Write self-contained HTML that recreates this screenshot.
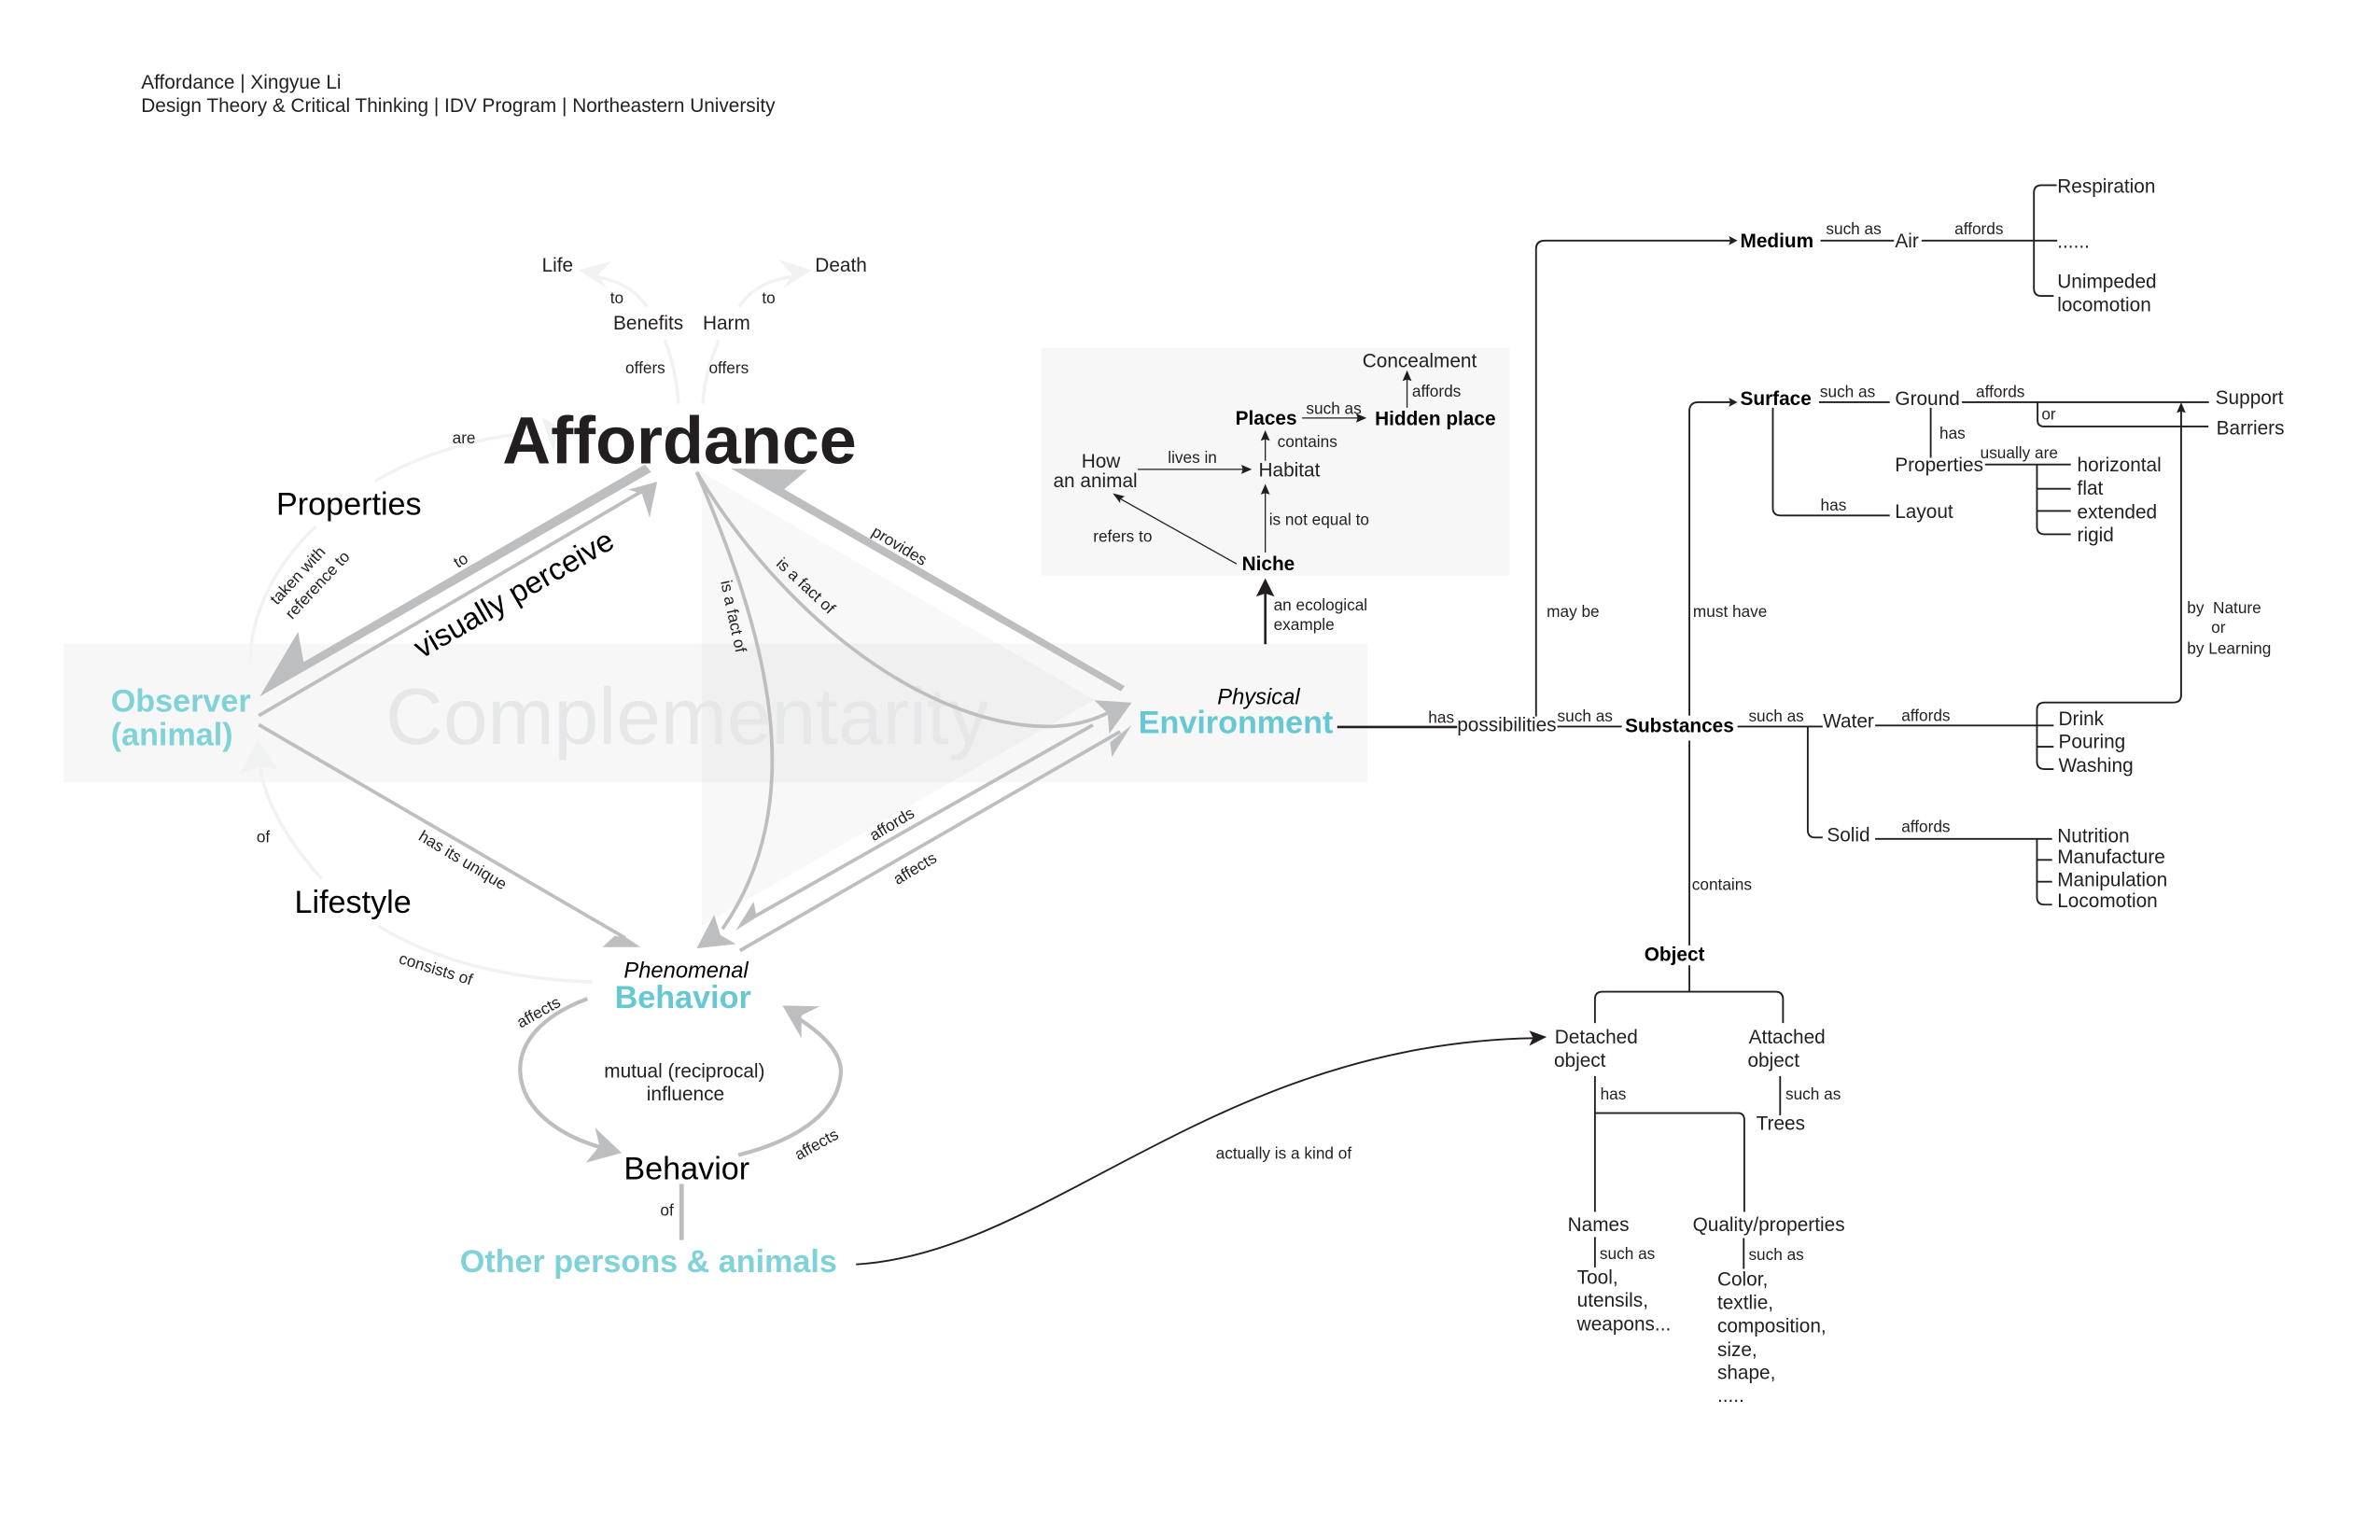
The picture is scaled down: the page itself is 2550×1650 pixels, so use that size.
<!DOCTYPE html>
<html lang="en">
<head>
<meta charset="utf-8">
<title>Affordance concept map</title>
<style>
html,body{margin:0;padding:0;background:#fff;width:2550px;height:1650px;overflow:hidden}
svg{display:block}
text{font-family:"Liberation Sans",sans-serif;fill:#231f20}
.s{font-size:10.6px}
.n{font-size:12.8px}
.b{font-size:12.8px;font-weight:bold;fill:#000}
.l{font-size:21px;fill:#000}
.t{font-size:21px;font-weight:bold}
.i{font-size:14.6px;font-style:italic;fill:#000}
.c{text-anchor:middle}
.k{fill:none;stroke:#231f20;stroke-width:1.15}
.kf{fill:#231f20}
.g{fill:none;stroke:#bcbec0;stroke-width:2.3}
.gf{fill:#bcbec0}
.f{fill:none;stroke:#f1f2f2;stroke-width:2.2}
.ff{fill:#f1f2f2}
</style>
</head>
<body>
<svg xmlns="http://www.w3.org/2000/svg" width="2550" height="1650" viewBox="0 0 1568 1014.6">
<rect x="0" y="0" width="1568" height="1014.6" fill="#fff"/>

<!-- panels -->
<rect x="42" y="424" width="859" height="91.5" fill="#f7f7f7"/>
<polygon points="462.3,311 721,461 462.3,610" fill="#000" fill-opacity="0.026"/>
<rect x="686" y="229.2" width="308.5" height="150" fill="#f7f7f7"/>
<text x="254" y="490" font-size="52.6" style="fill:#e6e7e8">Complementarity</text>

<!-- header -->
<text x="93" y="58.5" font-size="12.8">Affordance | Xingyue Li</text>
<text x="93" y="73.8" font-size="12.8">Design Theory &amp; Critical Thinking | IDV Program | Northeastern University</text>

<!-- faint connectors -->
<g>
<path class="f" d="M447,266 C446,250 443,238 438,224"/>
<path class="f" d="M463,266 C464,250 468,238 473.5,224"/>
<path class="f" d="M426,202 C418,190 406,184 390,182"/>
<polygon class="ff" points="381,178 403,172 394,181 400,190"/>
<path class="f" d="M487,202 C495,190 507,184 524,182"/>
<polygon class="ff" points="535,178 513,171 522,181 516,190"/>
<path class="f" d="M247,317 C280,298 315,288 352,285"/>
<polygon class="ff" points="368,281 357,275 360,285 365,298"/>
<path class="f" d="M208,347 C178,375 164,410 165,438"/>
<path class="f" d="M212,579 C190,555 172,525 171,500"/>
<polygon class="ff" points="170,487 158,510 171,505 183,507"/>
<path class="f" d="M390,647 C340,645 290,635 249,610"/>
</g>

<!-- grey connectors -->
<g>
<polygon class="gf" points="171.2,458.8 429,311 425,306 200,436.2 196.4,416.2"/>
<line class="g" x1="170.5" y1="471.5" x2="424" y2="323"/>
<polygon class="gf" points="433,317.4 414,322.5 423,325.5 428,341"/>
<line class="g" x1="170.5" y1="477.5" x2="412" y2="618"/>
<polygon class="gf" points="422,624 397,624 405,616.5 413,618"/>
<polygon class="gf" points="481.7,308.7 532,309.5 516.6,322.3 741,452 738.4,455.5"/>
<path class="g" d="M459,311 C497,400 540,520 476,612"/>
<polygon class="gf" points="459,624.8 470.5,602.7 474.6,616 484.8,622"/>
<path class="g" d="M459,311 C485,355 530,410 589,446 C630,471 690,492 733,468"/>
<polygon class="gf" points="745.6,462.9 721,461.3 729.8,470 730.8,483.4"/>
<line class="g" x1="488" y1="609" x2="720" y2="477.6"/>
<polygon class="gf" points="484.8,613 496.5,594 498.2,602.7 502,602"/>
<line class="g" x1="487.5" y1="626.3" x2="738" y2="482"/>
<polygon class="gf" points="745.6,477.6 731.4,489 732.5,498.8"/>
<path class="g" style="stroke-width:2.6" d="M387,658 C355,670 342,688 342.7,706 C344,733 372,750 400,757"/>
<polygon class="gf" points="409.6,759.6 392,743 395,755 386,766"/>
<path class="g" style="stroke-width:2.6" d="M486.5,761 C530,750 553,730 554,706 C554,692 540,680 526,671"/>
<polygon class="gf" points="515.5,662.5 540,663 528,669 528,684"/>
<line class="g" style="stroke-width:3" x1="449" y1="780" x2="449" y2="817"/>
</g>

<!-- main nodes -->
<text x="331" y="305.3" font-size="44.2" font-weight="bold">Affordance</text>
<text x="182" y="339" class="l">Properties</text>
<text x="194" y="601.4" class="l">Lifestyle</text>
<text x="411" y="777" class="l">Behavior</text>
<text x="73" y="469" class="t" style="fill:#80d2d9">Observer</text>
<text x="73" y="491" class="t" style="fill:#80d2d9">(animal)</text>
<text x="802" y="464" class="i">Physical</text>
<text x="750" y="483" class="t" style="fill:#66c8d2">Environment</text>
<text x="411" y="644" class="i">Phenomenal</text>
<text x="405" y="664" class="t" style="fill:#66c8d2">Behavior</text>
<text x="303" y="838.2" class="t" style="fill:#80d2d9">Other persons &amp; animals</text>
<text x="398" y="710" class="n">mutual (reciprocal)</text>
<text x="426" y="725" class="n">influence</text>
<text x="357" y="179" class="n">Life</text>
<text x="537" y="179" class="n">Death</text>
<text x="404" y="217" class="n">Benefits</text>
<text x="463" y="217" class="n">Harm</text>

<!-- left labels -->
<text x="402" y="200" class="s">to</text>
<text x="502" y="200" class="s">to</text>
<text x="412" y="246" class="s">offers</text>
<text x="467" y="246" class="s">offers</text>
<text x="298" y="292" class="s">are</text>
<text x="169" y="555" class="s">of</text>
<text x="435" y="801" class="s">of</text>
<text class="s c" dy=".35em" transform="translate(196,379) rotate(-47)">taken with</text>
<text class="s c" dy=".35em" transform="translate(209,385.3) rotate(-47)">reference to</text>
<text class="s c" dy=".35em" transform="translate(303.4,369) rotate(-31)">to</text>
<text class="l c" style="font-size:20.2px" dy=".35em" transform="translate(338.3,391) rotate(-30)">visually perceive</text>
<text class="s c" dy=".35em" transform="translate(483.4,406) rotate(78)">is a fact of</text>
<text class="s c" dy=".35em" transform="translate(531,385.8) rotate(43)">is a fact of</text>
<text class="s c" dy=".35em" transform="translate(592.7,359.4) rotate(31)">provides</text>
<text class="s c" dy=".35em" transform="translate(587.5,542.8) rotate(-31)">affords</text>
<text class="s c" dy=".35em" transform="translate(602.7,572) rotate(-31)">affects</text>
<text class="s c" dy=".35em" transform="translate(305,566.5) rotate(31)">has its unique</text>
<text class="s c" dy=".35em" transform="translate(287.2,638.2) rotate(17)">consists of</text>
<text class="s c" dy=".35em" transform="translate(354.7,666.7) rotate(-29)">affects</text>
<text class="s c" dy=".35em" transform="translate(537.8,753.8) rotate(-29)">affects</text>

<!-- kind-of curve -->
<path class="k" d="M564,833 C690,826 800,688 1010,684"/>
<polygon class="kf" points="1019,683.2 1007.5,679 1010,683.6 1007.5,689"/>
<text x="801" y="763.5" class="s">actually is a kind of</text>

<!-- niche cluster -->
<g>
<line class="k" style="stroke-width:1.6" x1="833.6" y1="424.4" x2="833.6" y2="390"/>
<polygon class="kf" points="833.6,381 839.6,393 833.6,391 827.6,393"/>
<text x="839.1" y="402.3" class="s">an ecological</text>
<text x="839.1" y="415.2" class="s">example</text>
<text x="897.6" y="242" class="n">Concealment</text>
<text x="930.3" y="261.4" class="s">affords</text>
<text x="813.9" y="279.9" class="b">Places</text>
<text x="860.5" y="272.7" class="s">such as</text>
<text x="905.8" y="280" class="b">Hidden place</text>
<text x="841.6" y="294.6" class="s">contains</text>
<text x="712.5" y="308" class="n">How</text>
<text x="693.9" y="320.9" class="n">an animal</text>
<text x="769.4" y="305" class="s">lives in</text>
<text x="829.2" y="314" class="n">Habitat</text>
<text x="836.1" y="346" class="s">is not equal to</text>
<text x="720.2" y="357" class="s">refers to</text>
<text x="818.2" y="375.6" class="b">Niche</text>
<path class="k" style="stroke-width:.8" d="M927,268.6V250 M857.8,275.4H895 M833.6,303.5V288 M749.6,309.2H820 M833.6,364V323 M814.7,371.5L737,328"/>
<polygon class="kf" points="927,244 930,251 927,250 924,251"/>
<polygon class="kf" points="900.4,275.4 893.4,272.4 894.4,275.4 893.4,278.4"/>
<polygon class="kf" points="833.6,283.4 836.6,290.4 833.6,289.4 830.6,290.4"/>
<polygon class="kf" points="824.8,309.2 817.8,306.2 818.8,309.2 817.8,312.2"/>
<polygon class="kf" points="833.6,318.8 836.6,325.8 833.6,324.8 830.6,325.8"/>
<polygon class="kf" points="733.1,325 738,331.5 738,329 741,327"/>
</g>

<!-- black tree connectors -->
<g>
<path class="k" style="stroke-width:1.6" d="M881,479H960"/>
<path class="k" d="M1012,472V164Q1012,158.5 1018,158.5H1140"/>
<path class="k" d="M1113,471.5V271Q1113,265 1119,265H1140"/>
<polygon class="kf" points="1144.7,158.5 1139,155.5 1140,158.5 1139,161.5"/>
<polygon class="kf" points="1144.7,265 1139,262 1140,265 1139,268"/>
<path class="k" d="M1199.4,158.5H1247.8 M1266,158.5H1355.4"/>
<path class="k" d="M1355,122H1345Q1340,122 1340,127V190Q1340,195 1345,195H1353"/>
<path class="k" d="M1198.4,265H1245 M1292.6,265H1455.3"/>
<path class="k" d="M1342.4,265V277Q1342.4,281 1347,281H1455"/>
<path class="k" d="M1272,268.6V301.6"/>
<path class="k" d="M1307.8,306H1364.3 M1342,306V347Q1342,352 1347,352H1364.3 M1342,322H1364.3 M1342,336.6H1364.3"/>
<path class="k" d="M1168,268.6V334.6Q1168,339.6 1173,339.6H1245"/>
<path class="k" d="M1437,268V457.8Q1437,462.8 1432,462.8H1347Q1342,462.8 1342,467.8V501.7Q1342,506.7 1347,506.7H1353"/>
<polygon class="kf" points="1437,265 1440,272 1437,271 1434,272"/>
<path class="k" d="M1026,478.7H1068.5 M1144.7,478.7H1200.8 M1235.4,478H1353 M1342,492H1353"/>
<path class="k" d="M1191,478.7V546.8Q1191,551.8 1196,551.8H1200.8"/>
<path class="k" d="M1235.4,552.7H1352 M1342,552.7V591Q1342,596 1347,596H1352 M1342,566.5H1352 M1342,580.9H1352"/>
<path class="k" d="M1113,488V622.8 M1113,636V653.4"/>
<path class="k" d="M1050.8,674V658.4Q1050.8,653.4 1055.8,653.4H1169.7Q1174.7,653.4 1174.7,658.4V674"/>
<path class="k" d="M1050.8,709V798.4 M1050.8,733.3H1145Q1149.2,733.3 1149.2,738V798.4"/>
<path class="k" d="M1172.8,709V734.8"/>
<path class="k" d="M1050.8,815V835 M1148.8,815.7V836"/>
</g>

<!-- right text -->
<g>
<text x="941" y="476.4" class="s">has</text>
<text x="960" y="481.7" class="n">possibilities</text>
<text x="1026" y="475.3" class="s">such as</text>
<text x="1070.6" y="482.4" class="b">Substances</text>
<text x="1152" y="475.3" class="s">such as</text>
<text x="1019" y="406.5" class="s">may be</text>
<text x="1115.4" y="406.5" class="s">must have</text>
<text x="1440.9" y="404" class="s">by&#160; Nature</text>
<text x="1456.8" y="417" class="s">or</text>
<text x="1440.9" y="430.6" class="s">by Learning</text>

<text x="1146.5" y="163" class="b">Medium</text>
<text x="1203" y="154.4" class="s">such as</text>
<text x="1248.5" y="163" class="n">Air</text>
<text x="1287.7" y="154.4" class="s">affords</text>
<text x="1355.4" y="127" class="n">Respiration</text>
<text x="1355.4" y="163.2" class="n">......</text>
<text x="1355.4" y="189.6" class="n">Unimpeded</text>
<text x="1355.4" y="205" class="n">locomotion</text>

<text x="1146.5" y="267" class="b">Surface</text>
<text x="1199" y="261.7" class="s">such as</text>
<text x="1248.5" y="267" class="n">Ground</text>
<text x="1301.8" y="261.7" class="s">affords</text>
<text x="1459.6" y="266.3" class="n">Support</text>
<text x="1460.2" y="286.3" class="n">Barriers</text>
<text x="1345" y="276.5" class="s">or</text>
<text x="1277.8" y="289" class="s">has</text>
<text x="1248.4" y="310.6" class="n">Properties</text>
<text x="1304.6" y="302" class="s">usually are</text>
<text x="1368.5" y="310.6" class="n">horizontal</text>
<text x="1368.5" y="326" class="n">flat</text>
<text x="1368.5" y="341.6" class="n">extended</text>
<text x="1368.5" y="356.8" class="n">rigid</text>
<text x="1199.4" y="336.4" class="s">has</text>
<text x="1248.4" y="341.4" class="n">Layout</text>

<text x="1201" y="479.4" class="n">Water</text>
<text x="1252.7" y="474.9" class="s">affords</text>
<text x="1356.2" y="477.8" class="n">Drink</text>
<text x="1356.2" y="493" class="n">Pouring</text>
<text x="1356.2" y="508.5" class="n">Washing</text>
<text x="1203.6" y="554.5" class="n">Solid</text>
<text x="1252.7" y="548.3" class="s">affords</text>
<text x="1355.4" y="555" class="n">Nutrition</text>
<text x="1355.4" y="568.8" class="n">Manufacture</text>
<text x="1355.4" y="584" class="n">Manipulation</text>
<text x="1355.4" y="597.7" class="n">Locomotion</text>

<text x="1114.7" y="586.4" class="s">contains</text>
<text x="1083.3" y="633" class="b">Object</text>
<text x="1024.3" y="687.6" class="n">Detached</text>
<text x="1023.8" y="703" class="n">object</text>
<text x="1152.1" y="687.6" class="n">Attached</text>
<text x="1151.4" y="703" class="n">object</text>
<text x="1054.3" y="724.4" class="s">has</text>
<text x="1176.3" y="724.4" class="s">such as</text>
<text x="1157" y="744.5" class="n">Trees</text>
<text x="1032.8" y="811" class="n">Names</text>
<text x="1115.2" y="811" class="n">Quality/properties</text>
<text x="1053.9" y="829.6" class="s">such as</text>
<text x="1152" y="830.2" class="s">such as</text>
<text x="1039" y="845.8" class="n">Tool,</text>
<text x="1039" y="861" class="n">utensils,</text>
<text x="1039" y="876.6" class="n">weapons...</text>
<text x="1131.4" y="847" class="n">Color,</text>
<text x="1131.4" y="862.3" class="n">textlie,</text>
<text x="1131.4" y="877.8" class="n">composition,</text>
<text x="1131.4" y="893.4" class="n">size,</text>
<text x="1131.4" y="908.5" class="n">shape,</text>
<text x="1131.4" y="923.6" class="n">.....</text>
</g>
</svg>
</body>
</html>
